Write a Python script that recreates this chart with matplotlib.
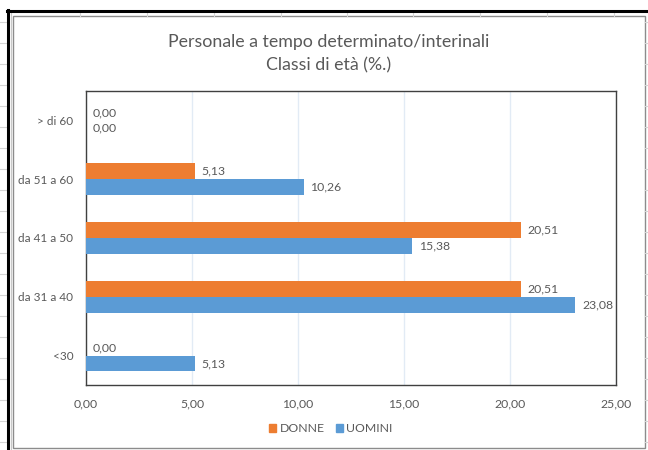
import matplotlib
matplotlib.use("Agg")
import matplotlib.pyplot as plt
from matplotlib.lines import Line2D
from matplotlib.patches import Rectangle, Patch
import numpy as np

plt.rcParams['font.family'] = ['Lato', 'DejaVu Sans']

# data (bottom to top)
categories = ["<30", "da 31 a 40", "da 41 a 50", "da 51 a 60", "> di 60"]
donne = [0.00, 20.51, 20.51, 5.13, 0.00]
uomini = [5.13, 23.08, 15.38, 10.26, 0.00]
xticks = [0, 5, 10, 15, 20, 25]

ORANGE = "#ED7D31"
BLUE = "#5B9BD5"
TXT = "#595959"

W, H = 648, 450
fig = plt.figure(figsize=(W / 100, H / 100), dpi=100)

def fx(px):
    return px / W

def fy(py):
    return 1 - py / H

# excel sheet background: cell grid lines and black frame
for x in [80, 147, 214, 281, 347, 413, 480, 547, 614]:
    fig.add_artist(Line2D([fx(x), fx(x)], [fy(12), fy(16)], color="#d4d4d4", lw=0.8))
for y in np.arange(22, 450, 21):
    fig.add_artist(Line2D([fx(0), fx(7)], [fy(y), fy(y)], color="#d4d4d4", lw=0.8))
    fig.add_artist(Line2D([fx(645), fx(648)], [fy(y), fy(y)], color="#d4d4d4", lw=0.8))
fig.add_artist(Line2D([fx(11), fx(11)], [fy(12), fy(450)], color="#c8c8c8", lw=0.8))
fig.add_artist(Line2D([fx(8), fx(8)], [fy(10), fy(450)], color="black", lw=2.2))
fig.add_artist(Line2D([fx(7), fx(648)], [fy(11), fy(11)], color="black", lw=2.2))
# chart area border
fig.add_artist(Rectangle((fx(13), fy(448)), fx(645) - fx(13), fy(16) - fy(448),
                         fill=False, edgecolor="#8c8c8c", lw=1.0))

ax = fig.add_axes([fx(86), fy(385), fx(616) - fx(86), fy(91) - fy(385)])

y = np.arange(len(categories))
h = 0.27
ax.barh(y + h / 2, donne, height=h, color=ORANGE, label="DONNE", zorder=3)
ax.barh(y - h / 2, uomini, height=h, color=BLUE, label="UOMINI", zorder=3)

def fmt(v):
    return f"{v:.2f}".replace(".", ",")

for yi, v in zip(y, donne):
    ax.annotate(fmt(v), (v, yi + h / 2), xytext=(5, 0), textcoords="offset points",
                va="center", ha="left", fontsize=8.8, color=TXT)
for yi, v in zip(y, uomini):
    ax.annotate(fmt(v), (v, yi - h / 2), xytext=(5, 0), textcoords="offset points",
                va="center", ha="left", fontsize=8.8, color=TXT)

ax.set_xlim(0, 25)
ax.set_ylim(-0.5, len(categories) - 0.5)
ax.set_xticks(xticks)
ax.set_xticklabels([fmt(t) for t in xticks], fontsize=8.8, color=TXT)
ax.set_yticks(y)
ax.set_yticklabels(categories, fontsize=8.5, color=TXT)
ax.tick_params(axis="x", length=0, pad=10)
ax.tick_params(axis="y", length=0, pad=9)
ax.grid(axis="x", color="#e2ebf5", lw=1.0, zorder=0)
for s in ax.spines.values():
    s.set_color("#404040")
    s.set_linewidth(1.0)

fig.text(fx(329), fy(42), "Personale a tempo determinato/interinali", ha="center",
         va="center", fontsize=12.8, color=TXT)
fig.text(fx(329), fy(65), "Classi di età (%.)", ha="center", va="center",
         fontsize=12.8, color=TXT)

handles = [Patch(color=ORANGE, label="DONNE"), Patch(color=BLUE, label="UOMINI")]
fig.legend(handles=handles, loc="center", bbox_to_anchor=(fx(331), fy(429)), ncol=2,
           frameon=False, fontsize=8.8, handlelength=0.55, handleheight=0.55,
           handletextpad=0.3, columnspacing=0.9, labelcolor=TXT)

fig.savefig("out.png", dpi=100)
